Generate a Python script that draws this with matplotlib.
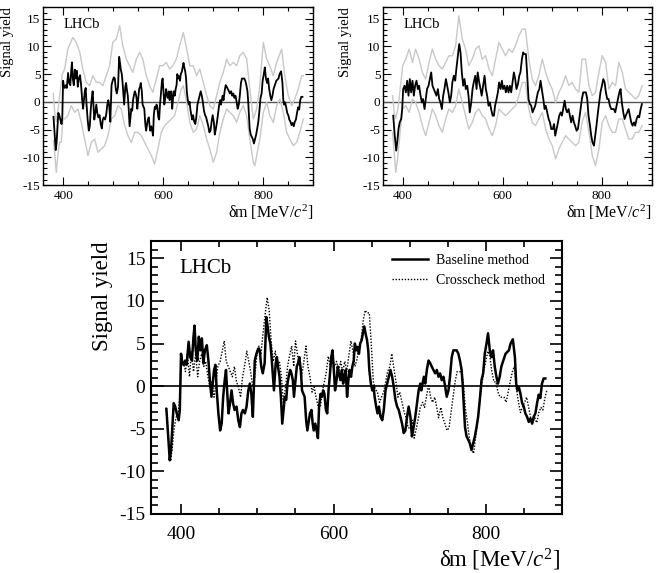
import numpy as np
import matplotlib
matplotlib.use("Agg")
import matplotlib.pyplot as plt
from matplotlib.ticker import MultipleLocator

plt.rcParams['font.family'] = ['Liberation Serif', 'DejaVu Serif']
plt.rcParams['mathtext.fontset'] = 'custom'
plt.rcParams['mathtext.rm'] = 'Liberation Serif'
plt.rcParams['mathtext.it'] = 'Liberation Serif:italic'
plt.rcParams['axes.unicode_minus'] = False

# ---- baseline method (top-left black, bottom solid)
base_m = [380.4, 384.8, 386.5, 390, 392, 394, 396.5, 398, 399.6, 401, 403, 405, 407, 409.6, 411.7, 414,
          416, 417.4, 419, 421, 423, 424.8, 427, 429, 431, 433.5, 435.6, 437.8, 439.6, 441, 443, 444.8,
          446.5, 448.7, 451, 453, 455, 457, 458.7, 460.4, 462, 464, 466, 468, 470, 472.6, 474.8, 477,
          479, 481, 483.5, 485.7, 488, 490, 492, 494, 496.5, 498.7, 501,
          503, 505, 507, 509.5, 511.7, 513.4, 515, 517, 518.6, 520.4, 521.7, 524, 525.6, 527, 529,
          530.8, 532.6, 534.3, 536, 537.8, 539.5, 541, 543, 544.7, 546.5, 548, 550, 551.7, 553.4, 555,
          557, 558.6, 560.4, 562, 564, 565.6, 567, 569, 571, 572.6, 574, 576, 577.8, 579.5, 581, 583,
          584.7, 586.5, 588, 590, 591.7, 593.4, 595, 597, 598.6, 600.4, 602, 604, 605.6, 607, 609, 611,
          612.6, 614, 616, 617.8, 619.5, 621, 623, 624.7, 626.5, 628, 630, 631.7, 633.4, 635, 637,
          638.6, 640.4, 642, 644, 645.6, 647, 649, 651, 652.6, 654, 656, 657.8,
          659.6, 661.8, 664, 666, 668.3, 670.5, 672.6, 674.8, 677, 679, 681.3, 683.5, 685.7, 687.9,
          690, 692.2, 694.4, 696.6, 698.7, 701, 703, 705.3, 707.4, 709.6, 711.8, 714, 715.3, 717,
          718.7, 720.5, 722.6, 724.8, 727, 729, 731.3, 733.5, 735.7, 737.9, 740, 742.2, 744.4, 746.6,
          748.7, 751, 753, 755.3, 757.4, 759.6, 761.8, 764, 766.1, 768.3, 769.6, 771, 772.7, 774.8,
          777, 779, 781.3, 783.5, 785.7, 787.9, 790, 792.2, 794.4, 796.6, 798.7, 801, 803, 805.3,
          807.4, 809.6, 811.8, 814, 816, 818.3, 820.5,
          826, 830.4, 832.6, 835.6, 838.3, 840, 841.7, 843.5, 845.6, 847.8, 850, 852, 854.3, 856.5,
          858.7, 860.9, 863, 865.2, 867.4, 869.6, 871.7, 873.9, 876, 878.3]
base_v = [-2.7, -8.7, -7.5, -2, -2.4, -3.2, -4, -2.8, 3.8, 2.9, 2.5, 3, 2.5, 5.2, 3.4, 3.0,
          5.8, 7.1, 4.2, 3, 5.8, 4.2, 5.6, 2.7, 4.2, 4.8, 3, 0.3, -1.25, 0, 1.9, 2.5,
          -0.5, -3.2, -5.2, -4.4, -1.25, 0.7, 1.9, -0.9, -3.2, -2, -0.5, -2, -2.8, -2.4, -4, -4.8,
          -3.2, -2.8, -3.2, -2.4, -0.5, 0.3, -0.9, -3.6, 3, 3.8, 4.4,
          4.2, 2.3, 1.5, 2.7, 8.1, 7, 5.8, 5, 3.4, 1.1, -0.5, 2.7, 3.4, 2.3, 1.1,
          -1.25, -4.4, -2.8, -1.25, -1.6, 0.3, 1.1, 1.9, 1.5, 0.7, -1.25, 0.7, 2.3, 2.7, 3.4,
          1.9, -0.5, -0.9, -1.25, -4, -5.2, -4.4, -3.2, -2.8, -4.4, -5.2, -4.4, -5.2, -6.1, -2.4, -0.9,
          -1.25, -0.5, -0.9, -2.8, -3.2, -0.5, 1.1, 3.4, 4.2, 1.9, -0.5, 0.7, 2.3, 1.5, 0.7, 1.9,
          0.3, 1.1, 1.9, -1.25, 0.7, 1.9, 1.1, 2.3, 3, 5, 4.2, 4.6, 3.8, 5, 5.4,
          6.2, 7, 6.2, 5.4, 4.2, 1.9, 0.3, -0.5, 0, -1.25, -2.4, -3.2,
          -2.4, -3.6, -4, -2.8, -0.5, 0.3, 1.1, 1.9, 1.1, 0, -1.6, -2.4, -2.8, -3.6,
          -4.4, -5.5, -5.2, -3.6, -2.4, -3.6, -5.9, -4.8, -3.6, -2, -0.5, 0.3, -0.5, 0.3,
          1.1, 0.3, 1.9, 3, 2.7, 2.3, 1.9, 1.5, 1.9, 1.1, 1.5, 0.7, 1.1, 0,
          -1.25, -0.5, 1.1, 3.4, 4.2, 4.2, 4.2, 3.8, 3, 1.9, 0.3, -2, -4.8, -5.9,
          -6.3, -6.7, -7.5, -6.7, -5.9, -4.8, -3.6, -1.6, 0.7, 1.5, 3.8, 5, 6.2, 4.2,
          3.4, 4.2, 2.3, 1.1, 0.3, 1.1, 2.3,
          3.8, 4.2, 5, 5.5, 3.4, 0.3, -0.5, -0.1, -0.9, -2, -2.4, -3.2, -3.6, -4.2,
          -3.8, -4.4, -3.6, -3.2, -2, -1, -1.4, 0.3, 0.9, 0.9]

# ---- crosscheck method (top-right black, bottom dotted)
cross_m = [380, 383, 386, 388, 390.6, 393, 396, 398, 400, 402.7, 405.4, 408, 410.7, 413.4, 416, 418.8,
           421.5, 424, 426.8, 429.5, 432, 435, 437.6, 440, 443, 445.6, 448, 451, 453.7, 456.4, 459,
           461.7, 464.4, 467, 469.8, 472.5, 475, 477.9, 480.5, 483, 486, 488.6, 491, 494, 496.6, 499,
           502, 504.7, 507, 510, 512.8, 515.4, 518, 520.8, 523.5, 526, 528.9, 531.5, 534, 537, 539.6,
           542, 545, 547.7, 550, 553, 555.7, 558, 561, 563.8, 566.4, 569, 571.8, 574.5, 577, 580,
           582.6, 585, 588, 590.6, 593, 596, 598.7, 601, 604, 606.7, 609.4, 612, 614.8, 617.4, 620,
           622.8, 625.5, 628, 631, 633.6, 636, 639, 641.6,
           643.7, 647, 649.7, 652.3, 655, 657.7, 660.4, 663, 665.8, 668.5, 671, 674, 676.5, 679, 682,
           684.6, 687, 690, 692.8, 695.4, 698, 701, 703.6, 706, 708.9, 711.6, 714, 717, 719.5, 722,
           725, 727.5, 730, 733, 735.6, 738, 741, 743.6, 746, 749, 751.7, 754.4, 757, 759.7, 762.4,
           765, 767.8, 770.5, 773, 776, 778.5, 781, 784, 786.6, 789, 792, 794.6, 797, 800, 802.7,
           805.4, 808, 810.7, 813.4, 816, 818.8, 821.5, 824, 826.8, 829.5, 832, 835, 837.6, 840, 843,
           845.6, 848, 851, 853.7, 856.4, 859, 861.7, 864.4, 867, 869.8, 872.5, 875, 878, 880.5]
cross_v = [-2.5, -6.1, -8.8, -7.3, -4.9, -3.7, -3.1, -1.3, 2.3, 2.9, 1.7, 3.8, 1.1, 4.1, 1.7, 3.8,
           1.1, 2.9, 3.8, 2.3, 2.9, 1.1, -0.1, 0.5, -1.3, 0.5, 2.3, 2.9, 4.1, 5.3, 2.9,
           2.3, 1.7, 1.1, 2.3, 0.5, -0.1, -1.3, 1.1, 2.3, 4.1, 2.9, 1.7, -0.1, 1.1, 3.5,
           4.7, 3.8, 5.9, 8.3, 10.4, 8.9, 5.3, 2.9, 4.1, 2.3, 2.9, 1.1, -1.9, -0.1, 2.3,
           3.5, 4.7, 2.3, 5.3, 3.5, 2.3, 1.1, 2.9, 4.7, 2.3, 1.1, -0.7, -0.1, -1.3, -2.5,
           -2.5, -0.7, 0.5, 1.7, 3.5, 2.3, 3.8, 2.3, 2.9, 1.7, 2.9, 1.7, 2.9, 1.7, 3.5,
           5.3, 4.1, 2.3, 3.2, 4.7, 5.3, 7.7, 8.9,
           8.6, 8.6, 4.7, 0.5, -0.4, -0.7, -1.9, -1.3, -0.7, 0.5, 1.7, 2.3, 3.8, 2.3, 0.5,
           -1.3, -0.7, -1.9, -3.1, -3.7, -4.9, -4.9, -4, -6.1, -4.9, -3.7, -2.5, -1.9, -2.5, -1.3,
           0.2, -1.3, -1.9, -1.3, -2.5, -3.7, -2.5, -3.7, -4.3, -5.2, -4.9, -3.1, -1.3, 0.5, 1.7,
           1.7, 1.7, 0.5, -2.5, -4.3, -6.1, -7.3, -7.9, -6.1, -4.3, -1.9, -0.1, 1.7, 2.9, 4.1,
           3.5, 1.7, 0.5, 0.5, -0.7, -1.3, -1.3, -1.3, -1.9, -0.7, 0.5, 1.7, 2.3, -0.1, -1.9,
           -3.1, -2.5, -1.9, -1.3, -2.5, -3.7, -4.3, -3.7, -4.3, -3.1, -2.5, -2.8, -1.3, -0.4]

# ---- uncertainty envelopes (grey), baseline
bup_m = [380, 383, 386, 390, 394, 398, 403, 409, 419, 426, 433, 439, 446, 452.7, 459, 466, 472.7, 479,
         486, 492.7, 499, 506, 512.7, 519, 526, 532.7, 539, 546, 552.7, 559, 566, 572.7, 579, 586,
         592.7, 599, 606, 612.7, 619, 626, 632.7, 640, 646.7, 653, 660, 666.7, 673, 680, 686.7, 693,
         700, 706.7, 713, 720, 726.7, 733, 740, 746.7, 753, 760, 766.7, 773, 780, 786.7, 793, 800,
         806.7, 813, 820, 826.7, 836.7, 843, 850, 856.7, 863, 870, 876.7, 880]
bup_v = [1.5, -2, -3.5, -1, 2, 5, 6, 9.5, 11.6, 10.7, 8.9, 5.9, 3.5, 2.9, 4.7, 3.5, 3.5, 2.9,
         4.7, 6.5, 10.7, 11.3, 13.7, 10.1, 7.7, 6.5, 5.3, 7.7, 8.9, 7.7, 4.7, 2.9, 1.7, 4.1,
         6.5, 6.5, 7.1, 5.9, 6.5, 7.7, 10.1, 12.5, 9.5, 6.5, 6.5, 4.7, 5.9, 3.5, 1.1, -0.7,
         -1.3, 1.1, 3.5, 5.3, 7.7, 6.5, 7.1, 6.5, 8.3, 8.9, 7.7, 2.3, -3.1, -1.3, 2.9, 10.7,
         7.7, 6.5, 4.7, 7.1, 9.5, 4.7, 1.1, -0.7, 0.5, 2.3, 4.7, 4.7]
blo_m = [380, 382.7, 386, 389, 392.7, 396, 399.3, 402.7, 409, 416, 422.7, 429.3, 436, 442.7, 449.3,
         456, 462.7, 469.3, 476, 482.7, 489.3, 496, 502.7, 509.3, 516, 522.7, 529.3, 536, 542.7,
         549.3, 556, 562.7, 569.3, 576, 582.7, 589.3, 596, 602.7, 609.3, 616, 622.7, 629.3, 636,
         640, 646.7, 653, 660, 666.7, 673, 680, 686.7, 693, 700, 706.7, 713, 720, 726.7, 733, 740,
         746.7, 753, 760, 766.7, 773, 780, 783, 786.7, 793, 800, 806.7, 813, 820, 826.7, 833, 840,
         846.7, 853, 860, 866.7, 873, 880]
blo_v = [-7, -9.1, -12.7, -9.7, -7.3, -7.3, -3.1, -3.1, -2.5, -0.7, -1.9, -1.3, -3.7, -6.7, -9.7,
         -7.3, -6.7, -9.1, -8.5, -7.9, -6.1, -3.1, -2.5, -0.7, -1.3, -4.3, -6.1, -7.3, -5.5,
         -5.5, -6.1, -7.3, -8.5, -9.7, -11.2, -8.5, -5.5, -4.3, -3.7, -3.1, -2.5, -0.1, 2.3,
         2.9, -0.1, -3.7, -5.5, -4.9, -2.5, -4.3, -6.7, -8.5, -10.9, -9.1, -5.5, -3.1, -1.3, -1.9, -2.5,
         -3.7, -1.9, -0.7, -2.5, -6.7, -10.9, -11.5, -9.7, -6.7, -1.9, -0.1, -2.5, -3.7, -0.7, 0.5, -1.9,
         -5.5, -6.7, -7.9, -7.3, -5.5, -3.1]

# ---- uncertainty envelopes (grey), crosscheck
cup_m = [378.7, 382, 385, 390, 399, 405.4, 412, 418.7, 425, 432, 438.6, 445.3, 452, 458.7, 465.4,
         472, 478.8, 485.5, 492, 499, 505.5, 512, 519, 525.6, 532, 539, 546, 552.6, 559, 566,
         572.7, 579.4, 586, 592.7, 599.4, 606, 612.8, 619.5, 626, 633, 639.6, 646, 653, 659.7,
         666.4, 673, 680, 686.7, 693.4, 700, 706.8, 713.5, 720, 727, 733.5, 740, 747, 753.5, 760,
         767, 774, 780.6, 787, 794, 800.6, 807.4, 814, 820.8, 827.5, 834, 841, 847.5, 854, 861,
         867.5, 874, 881]
cup_v = [1.1, -2, -3, -1, 6.5, 7.7, 9.5, 7.1, 9.5, 7.7, 5.3, 4.1, 7.1, 9.5, 7.7,
         6.5, 5.9, 7.1, 8.3, 8.3, 10.1, 15.5, 11.3, 9.5, 6.5, 7.7, 9.5, 10.1, 7.7, 8.3,
         5.9, 4.7, 7.7, 10.7, 9.5, 8.3, 9.5, 8.9, 10.1, 11.9, 13.1, 13.1, 7.7, 4.1,
         2.9, 4.7, 7.7, 5.3, 3.5, 2.3, -0.1, 1.7, 2.9, 4.7, 2.9, 3.5, 2.3, 1.7, 7.7,
         7.7, 2.9, 1.1, 1.7, 5.3, 8.3, 7.1, 2.3, 3.5, 2.9, 7.1, 5.3, 2.3, 1.7, 1.1,
         0.5, 1.1, 2.9]
clo_m = [378.7, 382, 385, 388.7, 392, 395, 398.7, 405.4, 412, 418.7, 425, 432, 438.6, 445.3, 452,
         458.7, 465.4, 472, 478.8, 485.5, 492, 499, 505.5, 512, 519, 525.6, 532, 539, 546, 552.6,
         559, 566, 572.7, 579.4, 586, 592.7, 599.4, 606, 612.8, 619.5, 626, 633, 639.6, 646, 653,
         659.7, 666.4, 673, 680, 686.7, 693.4, 700, 706.8, 713.5, 720, 727, 733.5, 740, 747, 753.5,
         760, 767, 774, 780.6, 787, 794, 800.6, 807.4, 814, 820.8, 827.5, 834, 841, 847.5, 854,
         861, 867.5, 874, 881]
clo_v = [-5.5, -9.1, -12.7, -10.3, -7.3, -4.3, -1.3, -0.7, -1.9, 0.5, -0.1, -1.9, -4.3, -6.1, -3.7,
         -1.3, -2.5, -4.3, -5.5, -3.1, -1.3, -1.9, -0.7, 2.3, -0.1, -2.5, -4.9, -3.7, -1.9, -1.3,
         -2.5, -3.1, -4.9, -6.1, -4.3, -1.3, -1.9, -2.5, -1.9, -1.3, -0.7, 1.1, 3.5, 3.5, -1.3,
         -3.7, -4.3, -3.1, -1.9, -4.9, -6.7, -7.9, -10.3, -8.5, -7.3, -6.1, -6.7, -7.3, -7.9, -7.3,
         -3.7, -1.9, -5.5, -9.7, -11.5, -8.5, -3.7, -2.5, -4.3, -5.5, -5.5, -3.1, -3.1, -4.9, -6.7,
         -6.7, -5.5, -5.5, -4.3]

xlabel = 'δm [MeV/$c^{2}$]'
ylabel = 'Signal yield'


def root_style(ax, tick_fs, maj_len, min_len, lw):
    ax.set_xlim(360, 900)
    ax.set_ylim(-15, 17)
    ax.xaxis.set_major_locator(MultipleLocator(200))
    ax.xaxis.set_minor_locator(MultipleLocator(50))
    ax.yaxis.set_major_locator(MultipleLocator(5))
    ax.yaxis.set_minor_locator(MultipleLocator(1))
    ax.tick_params(which='both', direction='in', top=True, right=True, width=lw * 0.8,
                   labelsize=tick_fs)
    ax.tick_params(which='major', length=maj_len)
    ax.tick_params(which='minor', length=min_len)
    for s in ax.spines.values():
        s.set_linewidth(lw)


fig = plt.figure(figsize=(6.56, 5.73), dpi=100)

# ---- top-left: baseline
ax1 = fig.add_axes([0.066, 0.677, 0.4116, 0.310])
ax1.axhline(0, color='#555555', lw=1.0)
ax1.plot(bup_m, bup_v, color='#c8c8c8', lw=1.0)
ax1.plot(blo_m, blo_v, color='#c8c8c8', lw=1.0)
ax1.plot(base_m, base_v, color='black', lw=1.3)
root_style(ax1, 9.5, 5.5, 3, 1.0)
ax1.tick_params(axis='x', pad=3.5)
ax1.tick_params(axis='y', pad=2)
ax1.set_xlabel(xlabel, fontsize=11.5, loc='right')
ax1.set_ylabel(ylabel, fontsize=10.5, loc='top')
ax1.xaxis.set_label_coords(1.0, -0.1)
ax1.yaxis.set_label_coords(-0.108, 1.0)
ax1.text(0.074, 0.882, 'LHCb', transform=ax1.transAxes, fontsize=10.5, va='baseline')

# ---- top-right: crosscheck
ax2 = fig.add_axes([0.5843, 0.677, 0.409, 0.310])
ax2.axhline(0, color='#555555', lw=1.0)
ax2.plot(cup_m, cup_v, color='#c8c8c8', lw=1.0)
ax2.plot(clo_m, clo_v, color='#c8c8c8', lw=1.0)
ax2.plot(cross_m, cross_v, color='black', lw=1.3)
root_style(ax2, 9.5, 5.5, 3, 1.0)
ax2.tick_params(axis='x', pad=3.5)
ax2.tick_params(axis='y', pad=2)
ax2.set_xlabel(xlabel, fontsize=11.5, loc='right')
ax2.set_ylabel(ylabel, fontsize=10.5, loc='top')
ax2.xaxis.set_label_coords(1.0, -0.1)
ax2.yaxis.set_label_coords(-0.118, 1.0)
ax2.text(0.074, 0.882, 'LHCb', transform=ax2.transAxes, fontsize=10.5, va='baseline')

# ---- bottom: comparison
ax3 = fig.add_axes([0.230, 0.103, 0.6265, 0.476])
ax3.axhline(0, color='black', lw=1.2)
ax3.plot(cross_m, cross_v, color='black', lw=1.0, ls=(0, (1, 1.2)), label='Crosscheck method')
ax3.plot(base_m, base_v, color='black', lw=1.8, label='Baseline method')
root_style(ax3, 14, 7, 4, 1.5)
ax3.tick_params(axis='y', which='major', length=9)
ax3.tick_params(axis='y', which='minor', length=5)
ax3.tick_params(axis='x', pad=9)
ax3.tick_params(axis='y', pad=4)
ax3.set_xlabel(xlabel, fontsize=16.5, loc='right')
ax3.set_ylabel(ylabel, fontsize=16.5, loc='top')
ax3.xaxis.set_label_coords(0.995, -0.12)
ax3.yaxis.set_label_coords(-0.093, 1.0)
ax3.text(0.069, 0.883, 'LHCb', transform=ax3.transAxes, fontsize=15, va='baseline')
h, l = ax3.get_legend_handles_labels()
ax3.legend(h[::-1], l[::-1], loc='upper left', bbox_to_anchor=(0.586, 0.955), frameon=False,
           fontsize=10, borderpad=0, borderaxespad=0, handlelength=2.6, handletextpad=0.6,
           labelspacing=0.55)

fig.savefig('out.png', dpi=100)
